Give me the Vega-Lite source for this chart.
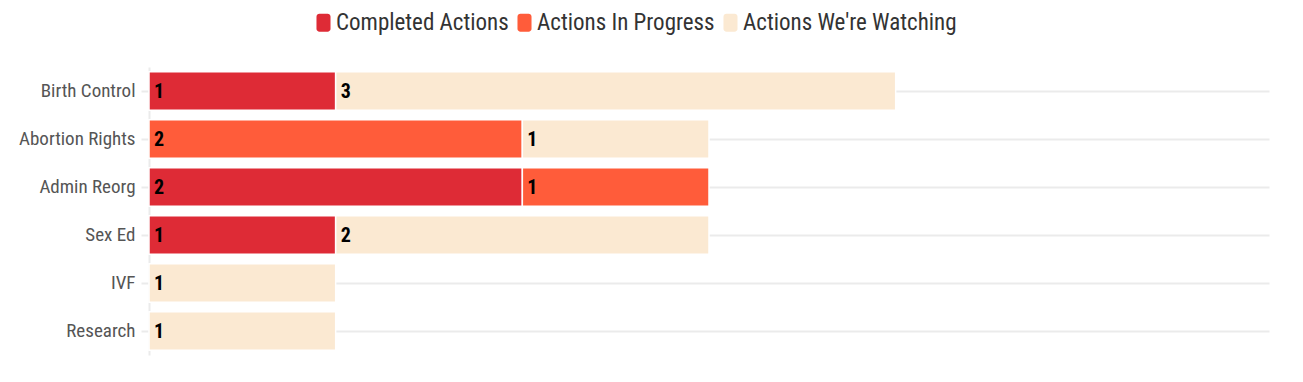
{
  "$schema": "https://vega.github.io/schema/vega-lite/v6.json",
  "width": 1120,
  "height": 288,
  "autosize": {"type": "none"},
  "padding": {"left": 149, "top": 67, "right": 34, "bottom": 27},
  "background": "white",
  "config": {
    "view": {"stroke": null},
    "font": "Roboto Condensed, Liberation Sans Narrow, Roboto"
  },
  "data": {
    "values": [
      {"topic": "Birth Control", "status": "Completed Actions", "order": 1, "value": 1},
      {"topic": "Birth Control", "status": "Actions We're Watching", "order": 3, "value": 3},
      {"topic": "Abortion Rights", "status": "Actions In Progress", "order": 2, "value": 2},
      {"topic": "Abortion Rights", "status": "Actions We're Watching", "order": 3, "value": 1},
      {"topic": "Admin Reorg", "status": "Completed Actions", "order": 1, "value": 2},
      {"topic": "Admin Reorg", "status": "Actions In Progress", "order": 2, "value": 1},
      {"topic": "Sex Ed", "status": "Completed Actions", "order": 1, "value": 1},
      {"topic": "Sex Ed", "status": "Actions We're Watching", "order": 3, "value": 2},
      {"topic": "IVF", "status": "Actions We're Watching", "order": 3, "value": 1},
      {"topic": "Research", "status": "Actions We're Watching", "order": 3, "value": 1}
    ]
  },
  "transform": [
    {"stack": "value", "groupby": ["topic"], "sort": [{"field": "order"}], "as": ["v0", "v1"]}
  ],
  "encoding": {
    "y": {
      "field": "topic",
      "type": "nominal",
      "sort": ["Birth Control", "Abortion Rights", "Admin Reorg", "Sex Ed", "IVF", "Research"],
      "scale": {"paddingInner": 0.2, "paddingOuter": 0.1},
      "axis": {
        "title": null,
        "domainColor": "#ebebeb",
        "domainWidth": 2,
        "tickColor": "#ebebeb",
        "tickWidth": 2,
        "tickSize": 8,
        "labelPadding": 6,
        "labelFontSize": 19,
        "labelColor": "#555555",
        "grid": true,
        "gridColor": "#ebebeb",
        "gridWidth": 2
      }
    }
  },
  "layer": [
    {
      "mark": {"type": "bar", "stroke": "white", "strokeWidth": 1.5},
      "encoding": {
        "x": {"field": "v0", "type": "quantitative", "scale": {"domain": [0, 6], "nice": false}, "axis": null},
        "x2": {"field": "v1"},
        "color": {
          "field": "status",
          "type": "nominal",
          "scale": {
            "domain": ["Completed Actions", "Actions In Progress", "Actions We're Watching"],
            "range": ["#de2b36", "#ff5c3a", "#fbe9d2"]
          },
          "legend": {
            "title": null,
            "orient": "none",
            "direction": "horizontal",
            "legendX": 163,
            "legendY": -56,
            "symbolType": "M-0.45,-1 H0.45 A0.33,0.33 0 0 1 0.78,-0.67 V0.67 A0.33,0.33 0 0 1 0.45,1 H-0.45 A0.33,0.33 0 0 1 -0.78,0.67 V-0.67 A0.33,0.33 0 0 1 -0.45,-1 Z",
            "symbolSize": 324,
            "symbolStrokeWidth": 0,
            "symbolOpacity": 1,
            "labelFontSize": 23,
            "labelColor": "#333333",
            "labelOffset": 1,
            "columnPadding": 4,
            "labelLimit": 400
          }
        },
        "order": {"field": "order"}
      }
    },
    {
      "mark": {"type": "text", "align": "left", "baseline": "middle", "dx": 5, "dy": 1, "fontSize": 20, "fontWeight": "bold", "color": "black"},
      "encoding": {
        "x": {"field": "v0", "type": "quantitative"},
        "text": {"field": "value", "type": "quantitative"}
      }
    }
  ]
}
